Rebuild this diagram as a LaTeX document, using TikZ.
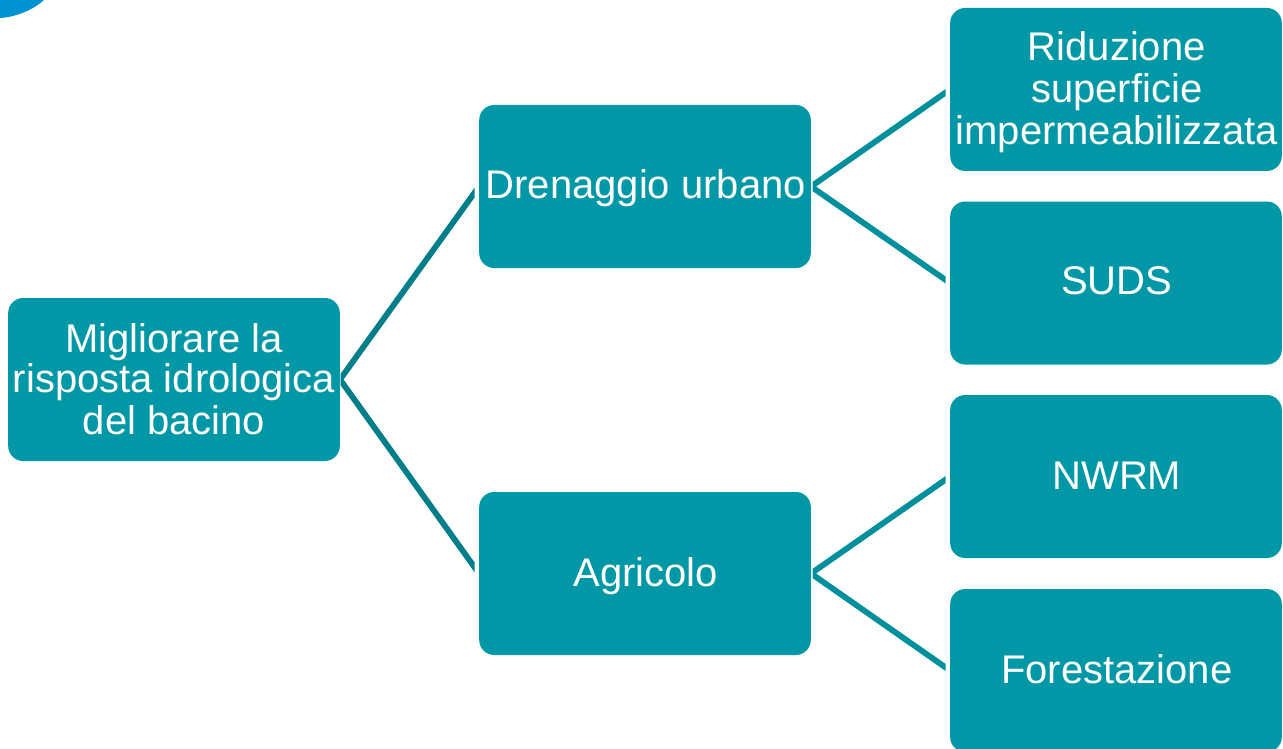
\documentclass[tikz,border=0pt]{standalone}
\usepackage{fontspec}
\setmainfont{Liberation Sans}
\definecolor{boxteal}{HTML}{0097A7}
\definecolor{linedark}{HTML}{007E8A}
\definecolor{linelight}{HTML}{008F9D}
\definecolor{cornerblue}{HTML}{0092D2}
\newcommand{\tl}[2]{\raisebox{#1}[\height][\depth]{\hspace*{1.6pt}#2}}
\newcommand{\tr}[2]{\raisebox{#1}[\height][\depth]{#2}}
\tikzset{
  box/.style={fill=boxteal,draw=none,rounded corners=15pt,minimum width=331.6pt,minimum height=163pt,inner sep=0pt,
    text=white,align=center,font=\fontsize{40}{42}\selectfont},
  linkdark/.style={draw=linedark,line width=5.8pt},
  linklight/.style={draw=linelight,line width=5.8pt}
}
\begin{document}
\begin{tikzpicture}[x=1pt,y=-1pt]
\clip (0,0) rectangle (1283,749);
\fill[cornerblue] (0,0) -- (44,0) .. controls (33,10) and (16,17) .. (0,18) -- cycle;
\node[box] (root) at (174,379.5) {\tr{-1pt}{Migliorare la}\\\tr{1pt}{risposta idrologica}\\\tr{1pt}{del bacino}};
\node[box] (urb) at (645,186.5) {\tl{-2pt}{Drenaggio urbano}};
\node[box] (agr) at (645,573.5) {\tl{-3pt}{Agricolo}};
\node[box] (rid) at (1116,89.5) {\tl{-3pt}{Riduzione}\\\tl{-3pt}{superficie}\\\tl{-3pt}{impermeabilizzata}};
\node[box] (suds) at (1116,283) {\tl{2pt}{SUDS}};
\node[box] (nwrm) at (1116,476.5) {\tl{1pt}{NWRM}};
\node[box] (fore) at (1116,670.5) {\tl{1pt}{Forestazione}};
\begin{scope}
\clip (340.5,0) rectangle (474.5,749);
\draw[linkdark] (root.east) -- (urb.west);
\draw[linkdark] (root.east) -- (agr.west);
\end{scope}
\begin{scope}
\clip (812.5,0) rectangle (945.5,749);
\draw[linklight] (rid.west) -- (urb.east) -- (suds.west);
\draw[linklight] (nwrm.west) -- (agr.east) -- (fore.west);
\end{scope}
\end{tikzpicture}
\end{document}
